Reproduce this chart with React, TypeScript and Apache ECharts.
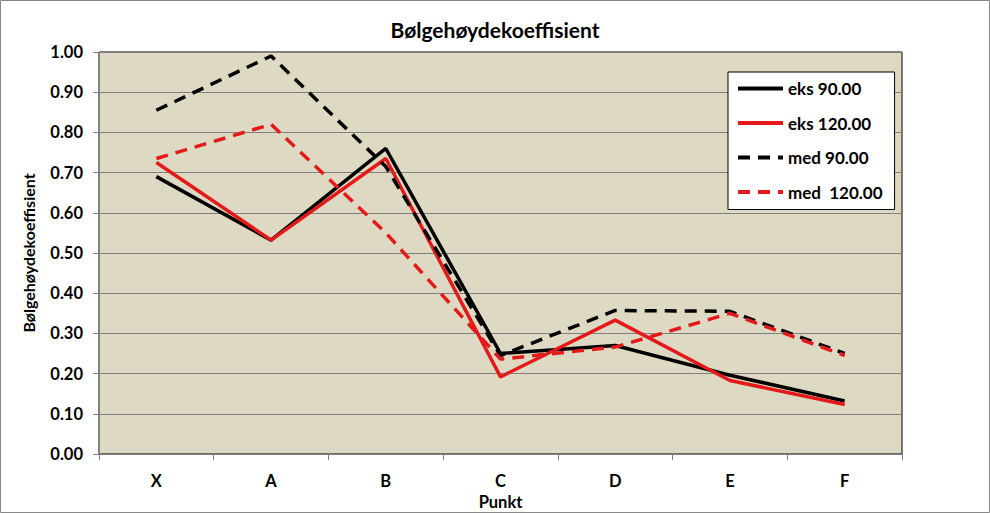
import React, { useEffect, useRef } from "react";
import * as echarts from "echarts";

const categories = ["X", "A", "B", "C", "D", "E", "F"];
const eks90 = [0.69, 0.532, 0.76, 0.25, 0.27, 0.196, 0.132];
const eks120 = [0.725, 0.532, 0.735, 0.192, 0.333, 0.183, 0.123];
const med90 = [0.855, 0.99, 0.715, 0.245, 0.357, 0.355, 0.25];
const med120 = [0.735, 0.82, 0.55, 0.236, 0.266, 0.35, 0.245];
const seriesNames = ["eks 90.00", "eks 120.00", "med 90.00", "med  120.00"];

const FONT = "Lato, 'Open Sans', sans-serif";

export default function App() {
  const ref = useRef<HTMLDivElement>(null);
  useEffect(() => {
    document.body.style.margin = "0";
    if (!ref.current) return;
    const chart = echarts.init(ref.current, null, { renderer: "svg" });
    const mk = (name: string, data: number[], color: string, dashed: boolean) => ({
      name,
      type: "line",
      data,
      symbol: "none",
      lineStyle: { color, width: 3.5, type: dashed ? [12, 8] : "solid", cap: "butt" },
      itemStyle: { color },
    });
    chart.setOption({
      animation: false,
      backgroundColor: "#ffffff",
      title: {
        text: "Bølgehøydekoeffisient",
        left: "center",
        top: 14,
        textStyle: { fontFamily: FONT, fontSize: 21, fontWeight: "bold", color: "#000" },
      },
      legend: {
        orient: "vertical",
        left: 728,
        top: 72,
        padding: [8, 12, 9, 8],
        itemWidth: 45,
        itemHeight: 14,
        itemGap: 17.5,
        backgroundColor: "#ffffff",
        borderColor: "#000000",
        borderWidth: 1,
        borderRadius: 0,
        itemStyle: { opacity: 0 },
        lineStyle: { width: 4 },
        textStyle: { fontFamily: FONT, fontSize: 17, fontWeight: "bold", color: "#000" },
        data: seriesNames,
      },
      grid: {
        left: 99,
        right: 88,
        top: 52,
        bottom: 59,
        outerBoundsMode: "none",
        containLabel: false,
        show: true,
        backgroundColor: "#DDD9C3",
        borderColor: "#000000",
        borderWidth: 1,
      },
      xAxis: {
        type: "category",
        data: categories,
        boundaryGap: true,
        name: "Punkt",
        nameLocation: "middle",
        nameGap: 33,
        nameTextStyle: { fontFamily: FONT, fontSize: 16.5, fontWeight: "bold", color: "#000" },
        axisLine: { lineStyle: { color: "#808080", width: 1 } },
        axisTick: { show: true, length: 6, lineStyle: { color: "#808080" } },
        axisLabel: { margin: 18, fontFamily: FONT, fontSize: 16.5, fontWeight: "bold", color: "#000" },
        splitLine: { show: false },
      },
      yAxis: {
        type: "value",
        min: 0,
        max: 1,
        interval: 0.1,
        name: "Bølgehøydekoeffisient",
        nameLocation: "middle",
        nameGap: 63,
        nameTextStyle: { fontFamily: FONT, fontSize: 16, fontWeight: "bold", color: "#000" },
        axisLine: { show: true, lineStyle: { color: "#808080", width: 1 } },
        axisTick: { show: true, length: 6, lineStyle: { color: "#808080" } },
        axisLabel: {
          margin: 16,
          fontFamily: FONT,
          fontSize: 16.5,
          fontWeight: "bold",
          color: "#000",
          formatter: (v: number) => v.toFixed(2),
        },
        splitLine: { show: true, lineStyle: { color: "#808080", width: 1 } },
      },
      graphic: [
        {
          type: "rect",
          shape: { x: 0.5, y: 0.5, width: 989, height: 512 },
          style: { fill: "none", stroke: "#888888", lineWidth: 1 },
          silent: true,
        },
      ],
      series: [
        mk(seriesNames[0], eks90, "#000000", false),
        mk(seriesNames[1], eks120, "#E41A1A", false),
        mk(seriesNames[2], med90, "#000000", true),
        mk(seriesNames[3], med120, "#E41A1A", true),
      ],
    });
    return () => chart.dispose();
  }, []);
  return <div ref={ref} style={{ width: 990, height: 513 }} />;
}
